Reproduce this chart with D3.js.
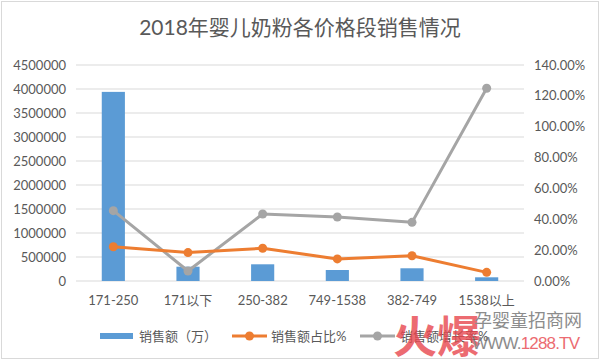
<!DOCTYPE html>
<html><head><meta charset="utf-8">
<script src="https://cdn.jsdelivr.net/npm/d3@7"></script>
<style>body{margin:0;background:#fff}svg{display:block}</style>
</head><body>
<script>
const categories = ["171-250","171以下","250-382","749-1538","382-749","1538以上"];
const salesWan = [3940000, 298000, 348000, 229000, 265000, 77000];
const sharePct = [22.2, 18.4, 21.2, 14.3, 16.4, 5.6];
const growthPct = [45.6, 6.5, 43.4, 41.5, 38.0, 124.9];
const leftTicks = [0,500000,1000000,1500000,2000000,2500000,3000000,3500000,4000000,4500000];
const rightTicks = [0,20,40,60,80,100,120,140];
const title = "2018年婴儿奶粉各价格段销售情况";
const legendNames = ["销售额（万）","销售额占比%","销售额增长率%"];

const W=600,H=361;
const font = "Lato, 'Noto Sans CJK SC', sans-serif";
const svg = d3.select("body").append("svg").attr("width",W).attr("height",H);
svg.append("rect").attr("x",1.5).attr("y",1.5).attr("width",W-3).attr("height",H-4)
  .attr("fill","#fff").attr("stroke","#d9d9d9");

const x = d3.scaleBand().domain(categories).range([76,524]).paddingInner(0.69).paddingOuter(0.345);
const xc = d3.scalePoint().domain(categories).range([76,524]).padding(0.5);
const yL = d3.scaleLinear().domain([0,4500000]).range([281,65]);
const yR = d3.scaleLinear().domain([0,140]).range([281,65]);

svg.append("g").selectAll("line").data(leftTicks).join("line")
  .attr("x1",76).attr("x2",524).attr("y1",d=>yL(d)).attr("y2",d=>yL(d))
  .attr("stroke","#d9d9d9").attr("stroke-width",1);

svg.append("g").selectAll("text").data(leftTicks).join("text")
  .attr("x",66).attr("y",d=>yL(d)).attr("dy","0.35em").attr("text-anchor","end")
  .attr("font-family",font).attr("font-size",13).attr("fill","#595959").text(d=>d);
svg.append("g").selectAll("text").data(rightTicks).join("text")
  .attr("x",534).attr("y",d=>yR(d)).attr("dy","0.35em").attr("text-anchor","start")
  .attr("font-family",font).attr("font-size",13).attr("fill","#595959").text(d=>d.toFixed(2)+"%");
svg.append("g").selectAll("text").data(categories).join("text")
  .attr("x",d=>xc(d)).attr("y",300).attr("dy","0.35em").attr("text-anchor","middle")
  .attr("font-family",font).attr("font-size",13).attr("fill","#595959").text(d=>d);

svg.append("g").selectAll("rect").data(salesWan).join("rect")
  .attr("x",(d,i)=>x(categories[i])).attr("width",x.bandwidth())
  .attr("y",d=>yL(d)).attr("height",d=>yL(0)-yL(d)).attr("fill","#5B9BD5");

function series(vals,color){
  const line=d3.line().x((d,i)=>xc(categories[i])).y(d=>yR(d));
  svg.append("path").datum(vals).attr("d",line).attr("fill","none")
    .attr("stroke",color).attr("stroke-width",3).attr("stroke-linejoin","round");
  svg.append("g").selectAll("circle").data(vals).join("circle")
    .attr("cx",(d,i)=>xc(categories[i])).attr("cy",d=>yR(d)).attr("r",4.5).attr("fill",color);
}
series(growthPct,"#A5A5A5");
series(sharePct,"#ED7D31");

svg.append("text").attr("x",300).attr("y",35).attr("text-anchor","middle")
  .attr("font-family",font).attr("font-size",21).attr("fill","#595959").text(title);

// legend
const ly=336;
svg.append("rect").attr("x",100).attr("y",ly-3).attr("width",33).attr("height",6).attr("fill","#5B9BD5");
svg.append("text").attr("x",139).attr("y",ly).attr("dy","0.35em").attr("font-family",font)
  .attr("font-size",13).attr("fill","#595959").text(legendNames[0]);
[[232,"#ED7D31",271,legendNames[1]],[360,"#A5A5A5",400,legendNames[2]]].forEach(([lx,c,tx,t])=>{
  svg.append("line").attr("x1",lx).attr("x2",lx+35).attr("y1",ly).attr("y2",ly).attr("stroke",c).attr("stroke-width",3);
  svg.append("circle").attr("cx",lx+17.5).attr("cy",ly).attr("r",4.5).attr("fill",c);
  svg.append("text").attr("x",tx).attr("y",ly).attr("dy","0.35em").attr("font-family",font)
    .attr("font-size",13).attr("fill","#595959").text(t);
});

// watermark
const wm = svg.append("g").attr("opacity",0.8);
wm.append("text").attr("x",393).attr("y",353).attr("font-family","'Noto Sans CJK SC'")
  .attr("font-weight","bold").attr("font-size",44).attr("fill","#e8474e").text("火爆");
wm.append("text").attr("x",474).attr("y",327).attr("font-family","'Noto Sans CJK SC'")
  .attr("font-size",18).attr("fill","#707070").text("孕婴童招商网");
const t2 = wm.append("text").attr("x",472).attr("y",349).attr("font-family","'Liberation Sans'")
  .attr("font-size",17).attr("textLength",108);
t2.append("tspan").attr("fill","#707070").text("WWW.");
t2.append("tspan").attr("fill","#e8474e").text("1288.TV");
</script>
</body></html>
